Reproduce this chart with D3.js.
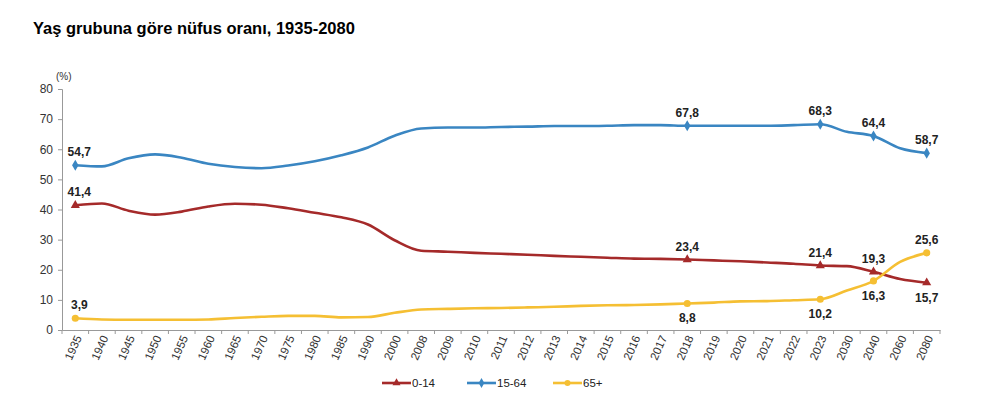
<!DOCTYPE html>
<html>
<head>
<meta charset="utf-8">
<script src="https://cdn.jsdelivr.net/npm/d3@7"></script>
<style>
  body { margin: 0; background: #fff; font-family: Arial, "Liberation Sans", sans-serif; }
  svg { display: block; }
</style>
</head>
<body>
<div id="chart"></div>
<script>
'use strict';

// categories
const years = ['1935','1940','1945','1950','1955','1960','1965','1970','1975','1980','1985','1990',
  '2000','2008','2009','2010','2011','2012','2013','2014','2015','2016','2017','2018','2019',
  '2020','2021','2022','2023','2030','2040','2060','2080'];

// series values (%)
const age_0_14 = [41.4, 42.0, 39.6, 38.3, 39.3, 41.0, 41.9, 41.6, 40.4, 38.9, 37.4, 35.0,
  29.8, 26.3, 26.0, 25.6, 25.3, 25.0, 24.6, 24.3, 24.0, 23.7, 23.6, 23.4, 23.1,
  22.8, 22.4, 22.0, 21.4, 21.2, 19.3, 16.9, 15.7];
const age_15_64 = [54.7, 54.3, 57.0, 58.3, 57.2, 55.2, 54.1, 53.7, 54.6, 56.0, 58.0, 60.6,
  64.5, 66.9, 67.2, 67.2, 67.4, 67.5, 67.7, 67.7, 67.8, 68.0, 68.0, 67.8, 67.8,
  67.8, 67.8, 68.0, 68.3, 65.8, 64.4, 60.3, 58.7];
const age_65 = [3.9, 3.5, 3.4, 3.4, 3.4, 3.5, 4.0, 4.4, 4.7, 4.7, 4.2, 4.3,
  5.7, 6.8, 7.0, 7.2, 7.3, 7.5, 7.7, 8.0, 8.2, 8.3, 8.5, 8.8, 9.1,
  9.5, 9.6, 9.9, 10.2, 13.1, 16.3, 22.6, 25.6];

// y ticks
const y_ticks = [0, 10, 20, 30, 40, 50, 60, 70, 80];

// labelled years
const labelled = ['1935', '2018', '2023', '2040', '2080'];

const title = 'Yaş grubuna göre nüfus oranı, 1935-2080';

const series = [
  { name: '0-14', values: age_0_14, color: '#a52a2a', symbol: d3.symbolTriangle,
    label_pos: y => y === '2080' ? 'below' : 'above' },
  { name: '15-64', values: age_15_64, color: '#3a86c2', symbol: d3.symbolDiamond, label_pos: () => 'above' },
  { name: '65+', values: age_65, color: '#f5bf33', symbol: d3.symbolCircle,
    label_pos: y => (y === '1935' || y === '2080') ? 'above' : 'below' }
];

const width = 981, height = 398;
const margin = { left: 62, right: 41, top: 89, bottom: 68 };

const svg = d3.select('#chart').append('svg')
  .attr('width', width)
  .attr('height', height);

// title
svg.append('text')
  .attr('x', 33)
  .attr('y', 34)
  .attr('font-size', '16.5px')
  .attr('font-weight', 'bold')
  .attr('fill', '#000')
  .text(title);

const x = d3.scaleBand()
  .domain(years)
  .range([margin.left, width - margin.right]);

const y = d3.scaleLinear()
  .domain([0, 80])
  .range([height - margin.bottom, margin.top]);

const cx = d => x(d) + x.bandwidth() / 2;

// y axis
const y_axis = svg.append('g')
  .attr('transform', `translate(${margin.left},0)`)
  .call(d3.axisLeft(y).tickValues(y_ticks).tickSize(4).tickPadding(5));
y_axis.select('.domain').attr('stroke', '#999');
y_axis.selectAll('.tick line').attr('stroke', '#999');
y_axis.selectAll('.tick text')
  .attr('font-size', '12px')
  .attr('font-family', 'Arial, "Liberation Sans", sans-serif')
  .attr('fill', '#333');

svg.append('text')
  .attr('x', 56)
  .attr('y', 80)
  .attr('font-size', '10px')
  .attr('fill', '#333')
  .text('(%)');

// x axis
const x_axis = svg.append('g')
  .attr('transform', `translate(0,${y(0)})`)
  .call(d3.axisBottom(x).tickSize(0).tickSizeOuter(0).tickPadding(0));
x_axis.select('.domain').attr('stroke', '#999');
x_axis.selectAll('.tick text')
  .attr('font-size', '11.5px')
  .attr('font-family', 'Arial, "Liberation Sans", sans-serif')
  .attr('fill', '#333')
  .attr('text-anchor', 'end')
  .attr('dy', '0.35em')
  .attr('transform', 'translate(3,6) rotate(-66)');

// x tick marks at band boundaries
svg.append('g')
  .selectAll('line')
  .data(years.concat(['end']))
  .enter()
  .append('line')
  .attr('x1', (d, i) => i < years.length ? x(d) : x(years[years.length - 1]) + x.bandwidth())
  .attr('x2', (d, i) => i < years.length ? x(d) : x(years[years.length - 1]) + x.bandwidth())
  .attr('y1', y(0))
  .attr('y2', y(0) + 4)
  .attr('stroke', '#999');

const line = d3.line()
  .x((d, i) => cx(years[i]))
  .y(d => y(d))
  .curve(d3.curveMonotoneX);

const label_g = svg.append('g');

series.forEach(s => {
  svg.append('path')
    .datum(s.values)
    .attr('fill', 'none')
    .attr('stroke', s.color)
    .attr('stroke-width', 2.6)
    .attr('stroke-linejoin', 'round')
    .attr('d', line);

  const pts = labelled.map(yr => ({ yr, v: s.values[years.indexOf(yr)] }));

  svg.append('g')
    .selectAll('path')
    .data(pts)
    .enter()
    .append('path')
    .attr('d', d3.symbol().type(s.symbol).size(s.symbol === d3.symbolCircle ? 40 : 36))
    .attr('transform', d => `translate(${cx(d.yr)},${y(d.v)})`)
    .attr('fill', s.color);

  label_g.selectAll(null)
    .data(pts)
    .enter()
    .append('text')
    .attr('x', d => cx(d.yr) + (d.yr === '1935' ? 4 : 0))
    .attr('y', d => s.label_pos(d.yr) === 'above' ? y(d.v) - 9 : y(d.v) + 19)
    .attr('text-anchor', 'middle')
    .attr('font-size', '12px')
    .attr('font-weight', 'bold')
    .attr('fill', '#222')
    .text(d => d.v.toFixed(1).replace('.', ','));
});

// legend
const legend = svg.append('g')
  .attr('transform', 'translate(382,383)');

const legend_x = [0, 85, 171];
series.forEach((s, i) => {
  const g = legend.append('g').attr('transform', `translate(${legend_x[i]},0)`);
  g.append('line')
    .attr('x1', 0).attr('x2', 29)
    .attr('y1', 0).attr('y2', 0)
    .attr('stroke', s.color)
    .attr('stroke-width', 2.6);
  g.append('path')
    .attr('d', d3.symbol().type(s.symbol).size(28))
    .attr('transform', 'translate(14.5,0)')
    .attr('fill', s.color);
  g.append('text')
    .attr('x', 30)
    .attr('y', 4)
    .attr('font-size', '11.5px')
    .attr('fill', '#222')
    .text(s.name);
});
</script>
</body>
</html>
